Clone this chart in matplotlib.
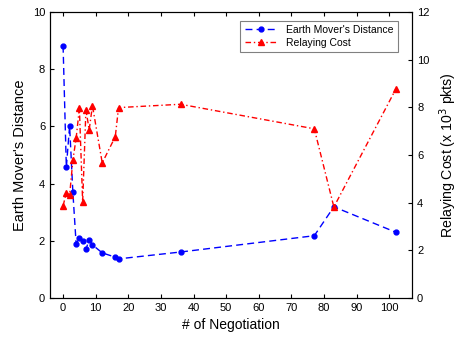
import matplotlib
matplotlib.use("Agg")
import matplotlib.pyplot as plt

plt.rcParams['font.family'] = ['Liberation Sans', 'DejaVu Sans']

# data
negotiation = [0, 1, 2, 3, 4, 5, 6, 7, 8, 9, 12, 16, 17, 36, 77, 83, 102]
emd = [8.82, 4.57, 6.02, 3.70, 1.90, 2.11, 2.00, 1.70, 2.04, 1.86,
       1.58, 1.43, 1.37, 1.61, 2.18, 3.19, 2.30]
relay_cost = [3.87, 4.42, 4.31, 5.78, 6.71, 7.96, 4.02, 7.90, 7.06, 8.07,
              5.67, 6.77, 7.99, 8.13, 7.10, 3.82, 8.77]

fig = plt.figure(figsize=(4.59, 3.43), dpi=100)
ax = fig.add_axes([0.109, 0.131, 0.789, 0.834])
ax2 = ax.twinx()

l1, = ax.plot(negotiation, emd, color='blue', linestyle='--', dashes=(5, 3),
              marker='o', markersize=3.5, linewidth=1,
              label="Earth Mover's Distance")
l2, = ax2.plot(negotiation, relay_cost, color='red', linestyle='-.',
               dashes=(4, 2, 1, 2), marker='^', markersize=4, linewidth=1,
               label='Relaying Cost')

ax.set_xlim(-4, 107)
ax.set_ylim(0, 10)
ax2.set_ylim(0, 12)
ax.set_xticks(range(0, 101, 10))
ax.set_yticks(range(0, 11, 2))
ax2.set_yticks(range(0, 13, 2))

ax.tick_params(axis='x', direction='in', top=True, labelsize=8, length=3)
ax.tick_params(axis='y', direction='in', labelsize=8, length=3)
ax2.tick_params(axis='y', direction='in', labelsize=8, length=3)

ax.set_xlabel('# of Negotiation', fontsize=10)
ax.set_ylabel("Earth Mover's Distance", fontsize=10.5)
ax2.set_ylabel('Relaying Cost (x 10$^3$ pkts)', fontsize=10.2, labelpad=6)

leg = ax.legend(handles=[l1, l2], loc='upper right', bbox_to_anchor=(0.975, 0.988),
                fontsize=7.5, fancybox=False, edgecolor='gray', framealpha=1,
                handlelength=3.2, borderpad=0.4, labelspacing=0.3)
leg.get_frame().set_linewidth(0.8)

fig.savefig('out.png', dpi=100)
